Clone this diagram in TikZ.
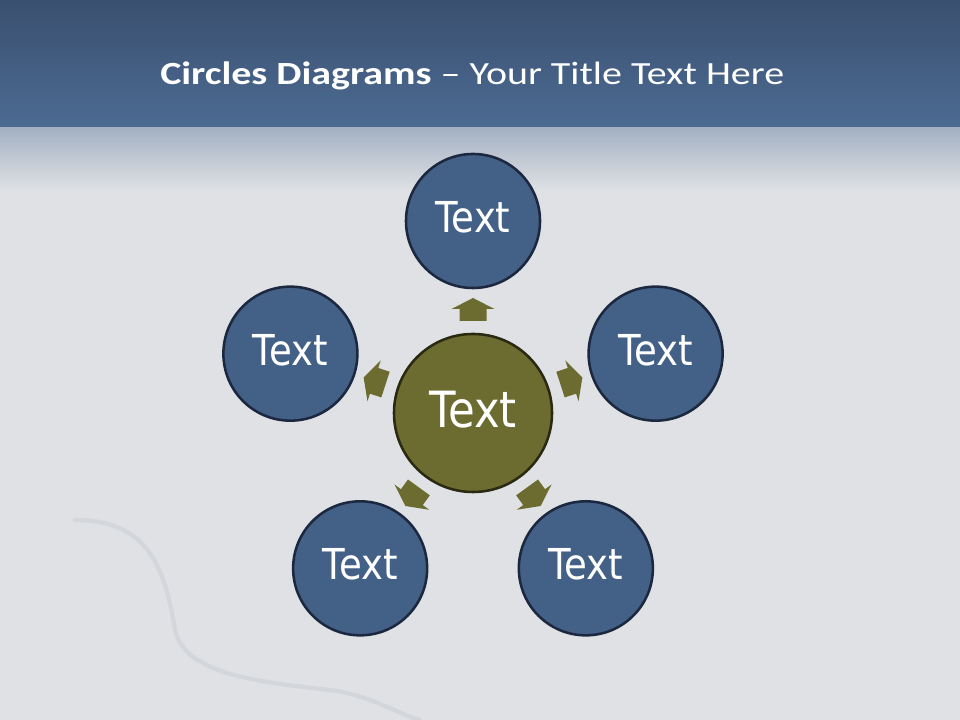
\documentclass[tikz,border=0pt]{standalone}
\usepackage{fontspec}
\usetikzlibrary{calc}
\setmainfont{Carlito}
\newfontfamily\titlefont[FakeStretch=1.235]{Carlito}
\newfontfamily\circfont[FakeStretch=0.87]{DejaVu Sans}
\definecolor{bandtop}{HTML}{3A5070}
\definecolor{bandlow}{HTML}{4C6B92}
\definecolor{slidebg}{HTML}{DFE1E4}
\definecolor{fadeblue}{HTML}{A3B1C3}
\definecolor{satblue}{HTML}{436086}
\definecolor{satrim}{HTML}{1C2840}
\definecolor{hubolive}{HTML}{6C6B30}
\definecolor{hubrim}{HTML}{2A2A12}
\definecolor{chartgray}{HTML}{D3D6DA}

\begin{document}
\begin{tikzpicture}[x=0.025cm, y=0.025cm]
  \tikzset{
    sat_circle/.style={circle, draw=satrim, fill=satblue, line width=1.8pt,
      minimum size=3.35cm, inner sep=0pt, text=white, text depth=0.2cm,
      font=\circfont\fontsize{30.3}{32}\selectfont},
    hub_circle/.style={circle, draw=hubrim, fill=hubolive, line width=1.8pt,
      minimum size=3.95cm, inner sep=0pt, text=white, text depth=0.2cm,
      font=\circfont\fontsize{35.5}{38}\selectfont},
    block_arrow/.pic={
      % small block arrow, pointing along +x
      \fill[hubolive] (92,-13.5) -- (104,-13.5) -- (104,-21.5) -- (115,0)
        -- (104,21.5) -- (104,13.5) -- (92,13.5) -- cycle;
    }
  }

  % background
  \useasboundingbox (0,0) rectangle (960,720);
  \fill[slidebg] (0,0) rectangle (960,720);
  \shade[top color=bandtop, bottom color=bandlow] (0,592) rectangle (960,720);
  \shade[top color=fadeblue, bottom color=slidebg] (0,530) rectangle (960,592);

  % faint chart line of the backdrop
  \draw[chartgray, line width=3pt, line cap=round]
    (75,200) .. controls (150,200) and (165,150) .. (175,90)
    .. controls (185,45) and (260,38) .. (330,30)
    .. controls (370,25) and (400,5) .. (420,0);

  % title
  \node[anchor=base west, inner sep=0pt, text=white,
    font=\titlefont\fontsize{23}{27}\selectfont]
    (title) at (160,635) {\textbf{Circles Diagrams} – Your Title Text Here};

  % hub and satellites
  \node[hub_circle] (hub) at (473,307) {Text};
  \foreach \ang [count=\i] in {90,18,-54,-126,162} {
    \node[sat_circle] (sat\i) at ($(hub)+(\ang:192)$) {Text};
    \pic[rotate=\ang] at (hub) {block_arrow};
  }
\end{tikzpicture}
\end{document}
